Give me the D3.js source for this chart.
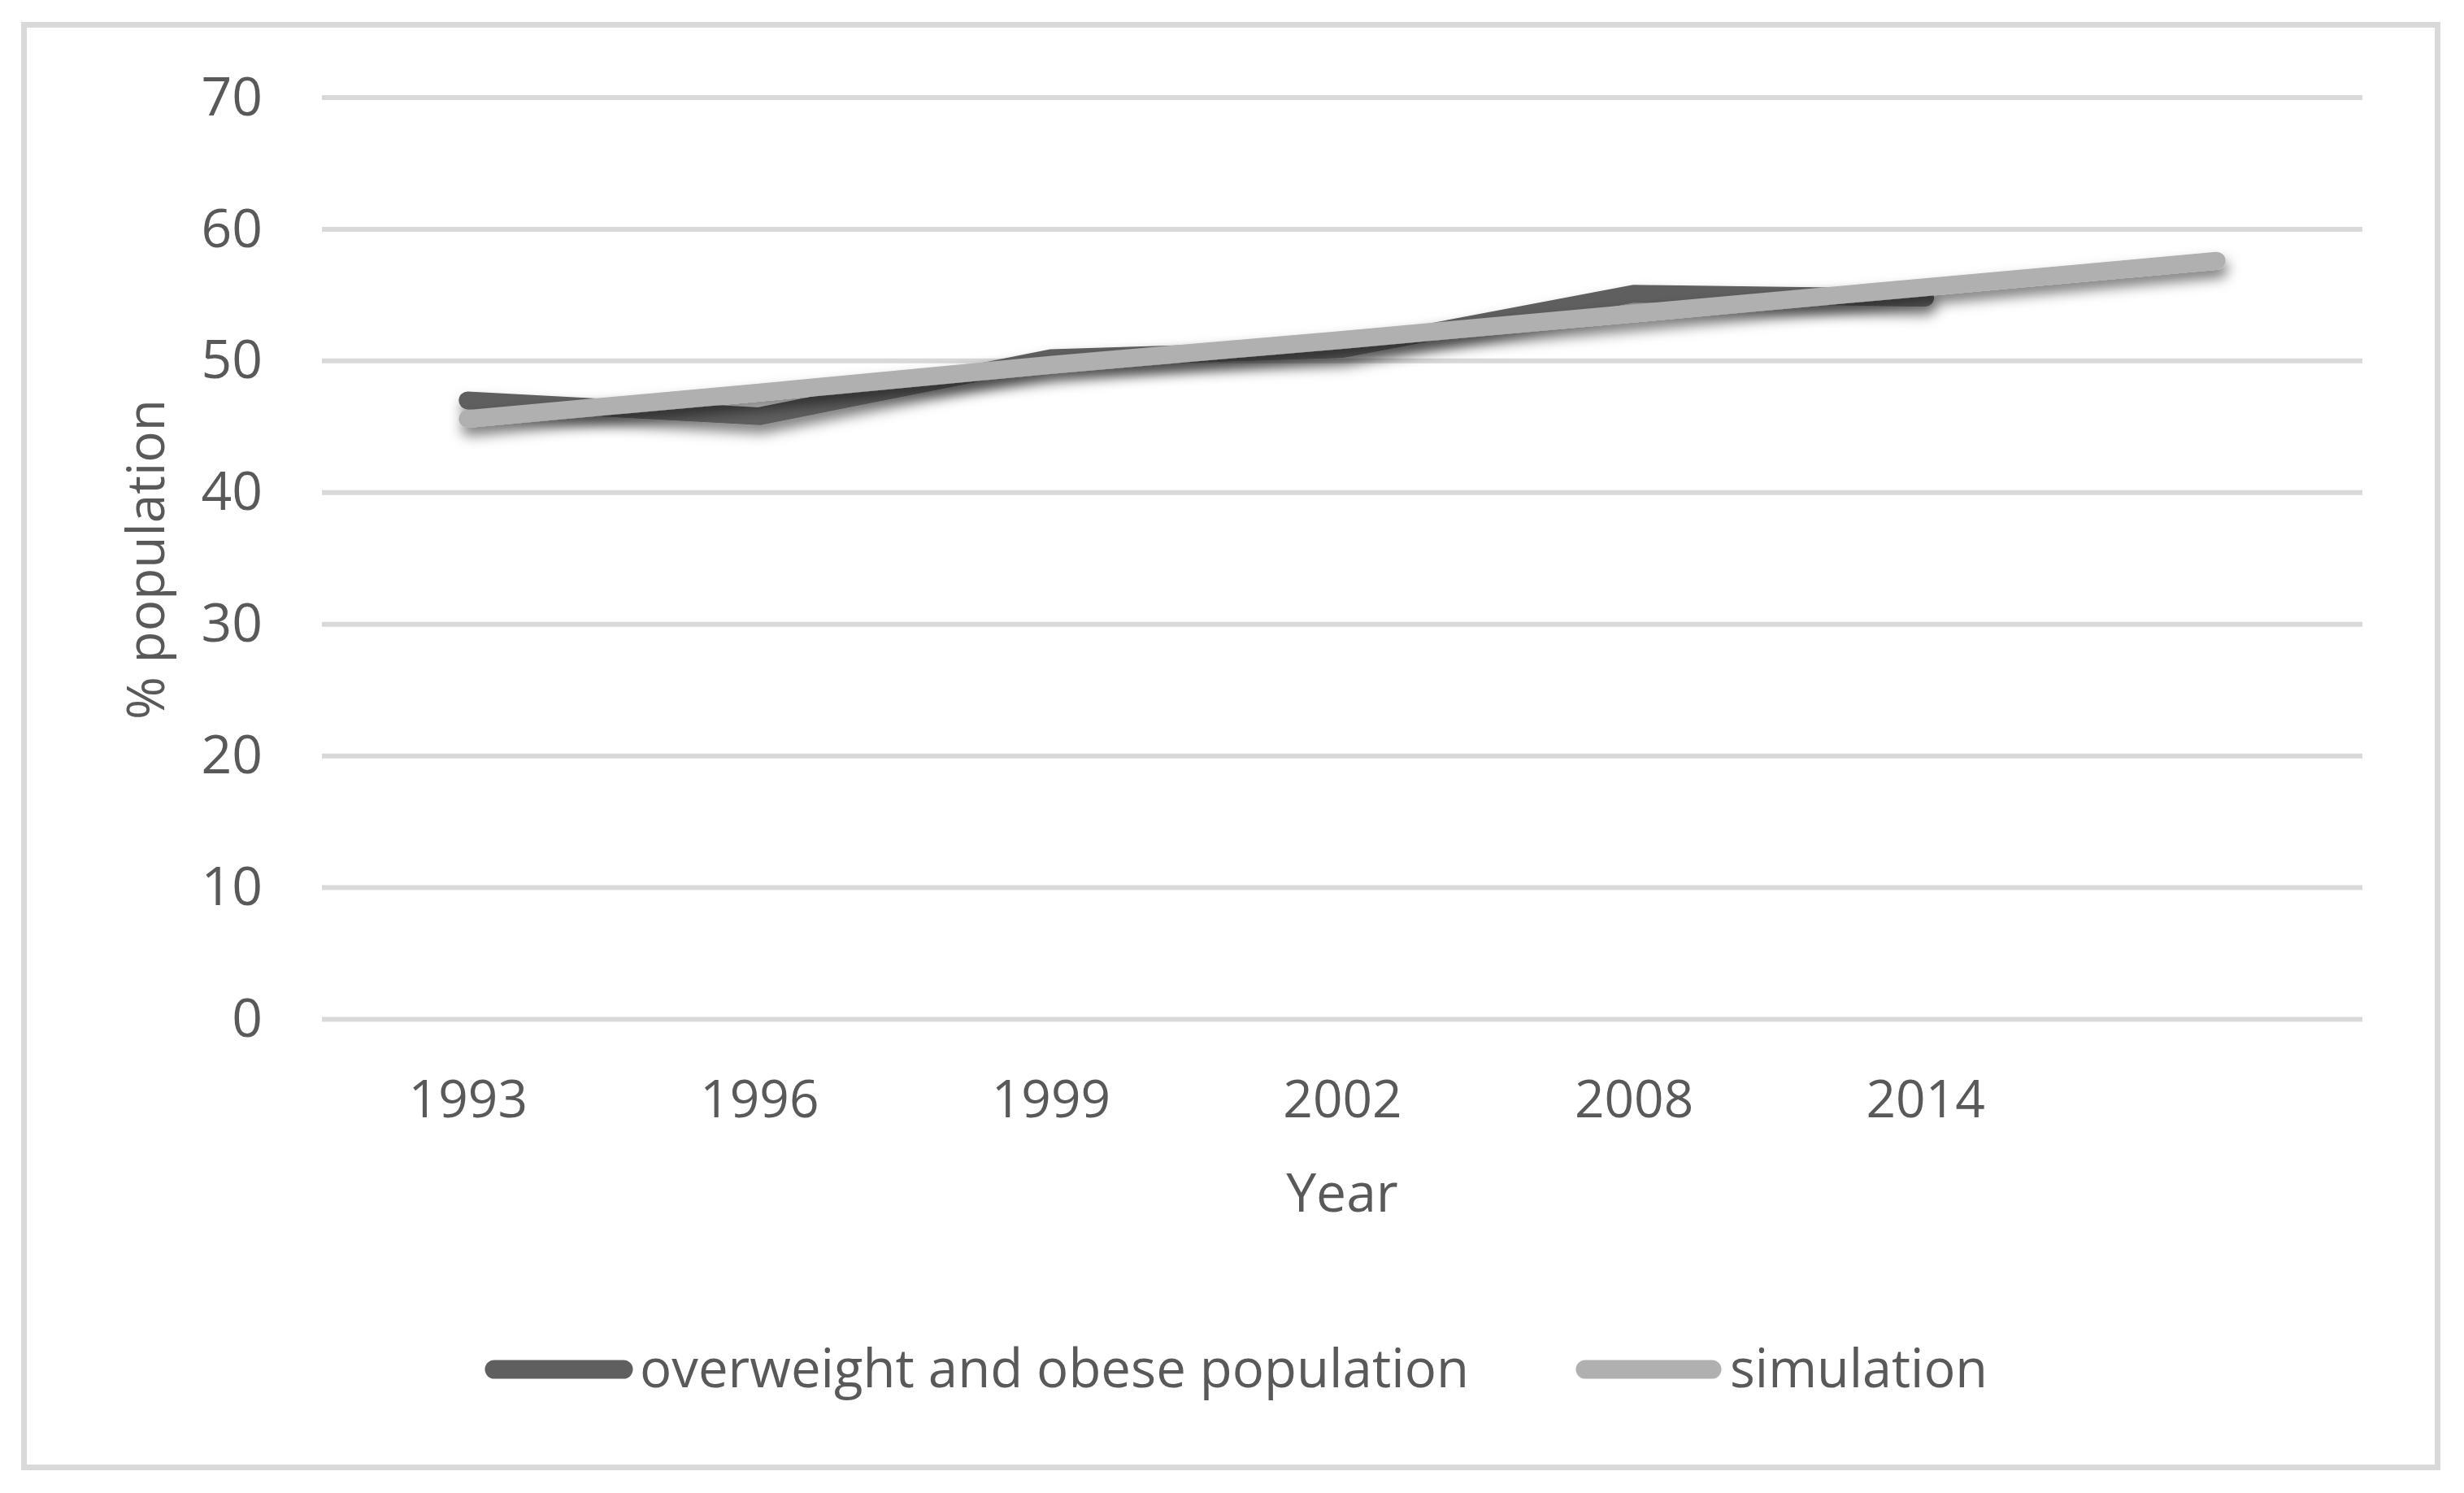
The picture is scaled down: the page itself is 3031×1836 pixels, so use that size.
<!DOCTYPE html>
<html>
<head>
<meta charset="utf-8">
<script src="https://cdn.jsdelivr.net/npm/d3@7"></script>
<style>
  body { margin: 0; background: #fff; }
  text { font-family: "Open Sans", sans-serif; fill: #595959; }
</style>
</head>
<body>
<div id="chart"></div>
<script>
// データ
const years = ["1993", "1996", "1999", "2002", "2008", "2014", ""];
const observed = [47.0, 45.8, 50.2, 50.9, 55.1, 54.8];
const simulation = [45.6, 47.6, 49.7, 51.6, 53.6, 55.6, 57.6];
const yTicks = [0, 10, 20, 30, 40, 50, 60, 70];
const seriesNames = ["overweight and obese population", "simulation"];

function chart() {
  const W = 3031, H = 1836;
  const plot = { left: 396, right: 2906, top: 120, bottom: 1253.5 };

  const svg = d3.select("#chart").append("svg")
    .attr("width", W)
    .attr("height", H);

  // 影のフィルター
  const defs = svg.append("defs");
  defs.append("filter")
    .attr("id", "shadow")
    .attr("x", "-10%").attr("y", "-50%")
    .attr("width", "120%").attr("height", "200%")
    .append("feDropShadow")
    .attr("dx", 3).attr("dy", 10)
    .attr("stdDeviation", 8)
    .attr("flood-color", "#000")
    .attr("flood-opacity", 0.5);

  // 外枠
  svg.append("rect")
    .attr("x", 29.5).attr("y", 30.5)
    .attr("width", 2969).attr("height", 1774)
    .attr("fill", "none")
    .attr("stroke", "#d9d9d9")
    .attr("stroke-width", 7);

  // スケール
  const x = d3.scalePoint()
    .domain(years.map((d, i) => i))
    .range([plot.left, plot.right])
    .padding(0.5);

  const y = d3.scaleLinear()
    .domain([0, 70])
    .range([plot.bottom, plot.top]);

  // グリッド線
  svg.append("g")
    .selectAll("line")
    .data(yTicks)
    .enter()
    .append("line")
    .attr("x1", plot.left)
    .attr("x2", plot.right)
    .attr("y1", d => y(d))
    .attr("y2", d => y(d))
    .attr("stroke", "#d9d9d9")
    .attr("stroke-width", 6);

  // Y軸
  const yAxis = svg.append("g")
    .attr("transform", `translate(${plot.left},0)`)
    .call(d3.axisLeft(y).tickValues(yTicks).tickSize(0).tickPadding(73));
  yAxis.select(".domain").remove();
  yAxis.selectAll("text")
    .style("font-family", "'Open Sans', sans-serif")
    .style("font-size", "66px")
    .attr("fill", "#595959");

  // X軸
  const xAxis = svg.append("g")
    .attr("transform", `translate(0,${plot.bottom})`)
    .call(d3.axisBottom(x).tickSize(0).tickPadding(120).tickFormat(i => years[i]));
  xAxis.select(".domain").remove();
  xAxis.selectAll("text")
    .style("font-family", "'Open Sans', sans-serif")
    .style("font-size", "64px")
    .attr("fill", "#595959")
    .attr("dy", 0);

  // 軸タイトル
  svg.append("text")
    .attr("x", 1651)
    .attr("y", 1490)
    .attr("text-anchor", "middle")
    .style("font-size", "66px")
    .text("Year");

  svg.append("text")
    .attr("transform", "translate(202,688) rotate(-90)")
    .attr("text-anchor", "middle")
    .style("font-size", "64px")
    .text("% population");

  // 折れ線
  const line = d3.line()
    .x((d, i) => x(i))
    .y(d => y(d));

  svg.append("path")
    .datum(observed)
    .attr("d", line)
    .attr("fill", "none")
    .attr("stroke", "#5f5f5f")
    .attr("stroke-width", 22)
    .attr("stroke-linecap", "round")
    .attr("stroke-linejoin", "round")
    .attr("filter", "url(#shadow)");

  svg.append("path")
    .datum(simulation)
    .attr("d", line)
    .attr("fill", "none")
    .attr("stroke", "#b0b0b0")
    .attr("stroke-width", 22)
    .attr("stroke-linecap", "round")
    .attr("stroke-linejoin", "round")
    .attr("filter", "url(#shadow)");

  // 凡例
  const legendItems = [
    { name: seriesNames[0], color: "#5f5f5f", x1: 608, x2: 767, tx: 787, tl: 1020 },
    { name: seriesNames[1], color: "#b0b0b0", x1: 1950, x2: 2106, tx: 2128, tl: 317 }
  ];
  const legend = svg.append("g")
    .selectAll("g")
    .data(legendItems)
    .enter()
    .append("g");

  legend.append("line")
    .attr("x1", d => d.x1)
    .attr("x2", d => d.x2)
    .attr("y1", 1684)
    .attr("y2", 1684)
    .attr("stroke", d => d.color)
    .attr("stroke-width", 23)
    .attr("stroke-linecap", "round");

  legend.append("text")
    .attr("x", d => d.tx)
    .attr("y", 1706)
    .attr("textLength", d => d.tl)
    .attr("lengthAdjust", "spacingAndGlyphs")
    .style("font-size", "66px")
    .text(d => d.name);
}
chart();
</script>
</body>
</html>
